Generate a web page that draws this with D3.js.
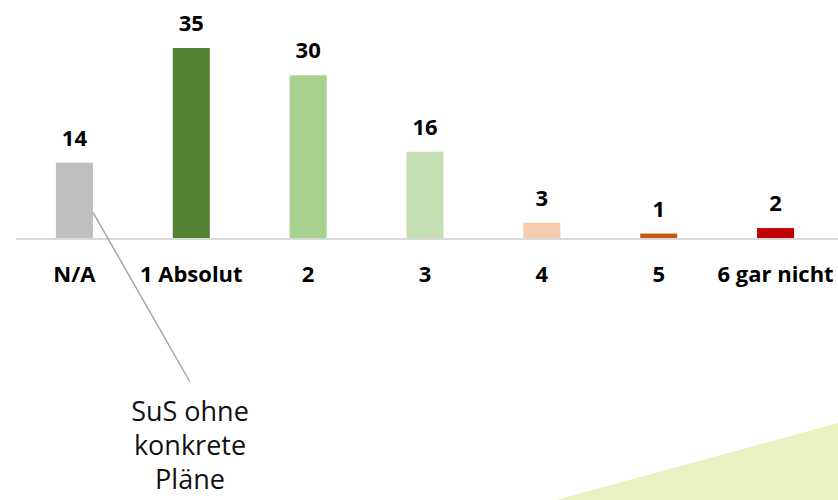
<!DOCTYPE html>
<html>
<head>
<meta charset="utf-8">
<script src="https://d3js.org/d3.v7.min.js"></script>
<style>
body, html {
    margin: 0;
    padding: 0;
    background: #fff;
    font-family: "Open Sans", sans-serif;
}
.value, .cat {
  font-weight: bold;
  font-size: 22px;
  fill: #000;
  text-anchor: middle;
}
.note {
  font-size: 27px;
  fill: #111;
  text-anchor: middle;
}
</style>
</head>
<body>
<div id="chart"></div>
<script>
var categories = ["N/A", "1 Absolut", "2", "3", "4", "5", "6 gar nicht"];
var values = [14, 35, 30, 16, 3, 1, 2];
var colors = ["#bfbfbf", "#548235", "#a9d18e", "#c5e0b4", "#f8cbad", "#c55a11", "#c00000"];
var noteLines = ["SuS ohne", "konkrete", "Pläne"];

var width = 838,
    height = 500,
    baseline = 239;

var svg = d3.select("#chart").append("svg")
  .attr("width", width)
  .attr("height", height);

// decorative shape bottom right
svg.append("path")
  .attr("d", "M556,500 L838,423 L838,500 Z")
  .attr("fill", "#ebf0c0");

var x = d3.scaleBand()
  .domain(categories)
  .range([16, 834])
  .paddingInner(0.683)
  .paddingOuter(0.683 / 2);

var y = d3.scaleLinear()
  .domain([0, 35])
  .range([baseline, 48]);

svg.selectAll("rect.bar")
  .data(values)
  .enter().append("rect")
  .attr("class", "bar")
  .attr("x", function(d, i) { return x(categories[i]); })
  .attr("y", function(d) { return y(d); })
  .attr("width", x.bandwidth())
  .attr("height", function(d) { return y(0) - y(d); })
  .attr("fill", function(d, i) { return colors[i]; });

// axis line
svg.append("line")
  .attr("x1", 16).attr("x2", 838)
  .attr("y1", baseline).attr("y2", baseline)
  .attr("stroke", "#d9d9d9")
  .attr("stroke-width", 2);

svg.selectAll("text.value")
  .data(values)
  .enter().append("text")
  .attr("class", "value")
  .attr("x", function(d, i) { return x(categories[i]) + x.bandwidth() / 2; })
  .attr("y", function(d) { return y(d) - 17; })
  .text(function(d) { return d; });

svg.selectAll("text.cat")
  .data(categories)
  .enter().append("text")
  .attr("class", "cat")
  .attr("x", function(d) { return x(d) + x.bandwidth() / 2; })
  .attr("y", 282)
  .text(function(d) { return d; });

// callout for N/A
var na = categories[0];
svg.append("line")
  .attr("x1", x(na) + x.bandwidth())
  .attr("y1", y(values[0] * 0.35))
  .attr("x2", 190)
  .attr("y2", 382)
  .attr("stroke", "#a6a6a6")
  .attr("stroke-width", 1.5);

svg.append("text")
  .attr("class", "note")
  .selectAll("tspan")
  .data(noteLines)
  .enter().append("tspan")
  .attr("x", 190)
  .attr("y", function(d, i) { return 421 + i * 34; })
  .text(function(d) { return d; });
</script>
</body>
</html>
